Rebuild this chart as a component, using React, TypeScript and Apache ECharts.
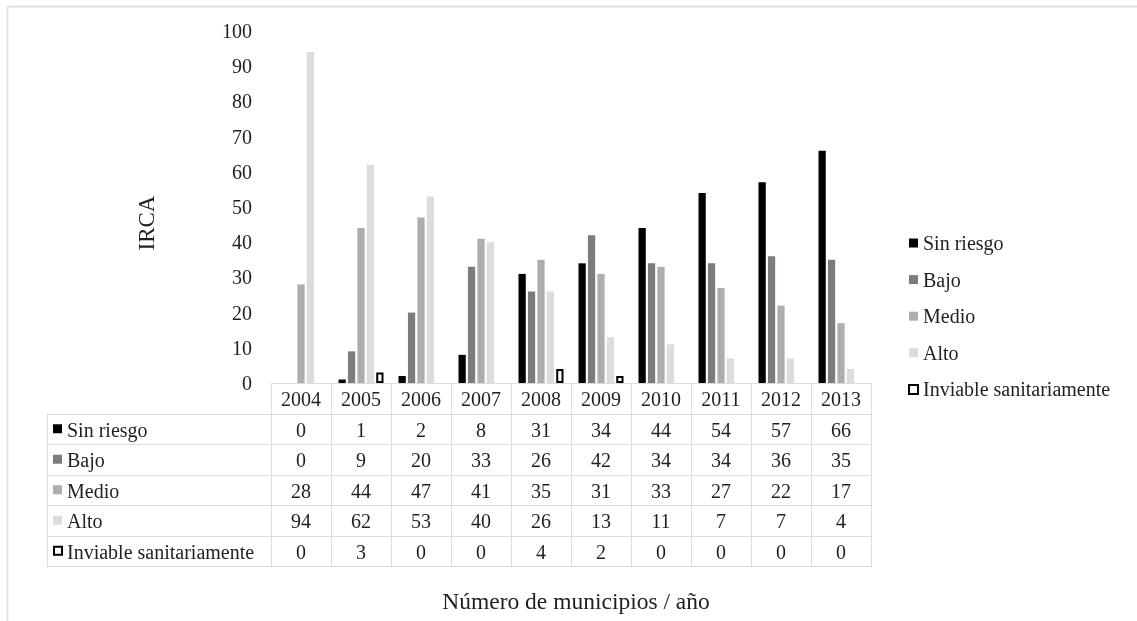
import React, { useEffect, useRef } from "react";
import * as echarts from "echarts";

const years = ["2004", "2005", "2006", "2007", "2008", "2009", "2010", "2011", "2012", "2013"];
const sinRiesgo = [0, 1, 2, 8, 31, 34, 44, 54, 57, 66];
const bajo = [0, 9, 20, 33, 26, 42, 34, 34, 36, 35];
const medio = [28, 44, 47, 41, 35, 31, 33, 27, 22, 17];
const alto = [94, 62, 53, 40, 26, 13, 11, 7, 7, 4];
const inviable = [0, 3, 0, 0, 4, 2, 0, 0, 0, 0];
const seriesNames = ["Sin riesgo", "Bajo", "Medio", "Alto", "Inviable sanitariamente"];
const yAxisTitle = "IRCA";
const xAxisTitle = "Número de municipios / año";

const FONT = "Liberation Serif";
const TXT = "#1f1f1f";
const GRIDC = "#dcdcdc";

export default function App() {
  const ref = useRef<HTMLDivElement>(null);
  useEffect(() => {
    if (!ref.current) return;
    const chart = echarts.init(ref.current, undefined, { renderer: "svg" });
    const values = [sinRiesgo, bajo, medio, alto, inviable];
    const styles = [
      { color: "#000000" },
      { color: "#7f7b7b" },
      { color: "#b0adad" },
      { color: "#dcdcdc" },
      { color: "#ffffff", borderColor: "#000000", borderWidth: 2 },
    ];

    const gl = 271, gr = 871, gt = 31, gb = 383;
    const colW = (gr - gl) / years.length;
    const rowH = 30.5;
    const tableLeft = 47;
    const nRows = seriesNames.length;
    const tableBottom = gb + (nRows + 1) * rowH;

    const txt = (text: string, x: number, y: number, align: string, size = 20, extra: any = {}) => ({
      type: "text",
      silent: true,
      ...extra,
      style: { text, x, y, align, verticalAlign: "middle", fontSize: size, fontFamily: FONT, fill: TXT },
    });

    const graphics: any[] = [];
    graphics.push({
      type: "rect",
      shape: { x: 7.5, y: 6.5, width: 1300, height: 800 },
      style: { fill: "none", stroke: "#e3e3e3", lineWidth: 2 },
      silent: true,
    });
    const hl = (x1: number, x2: number, y: number) =>
      graphics.push({ type: "line", shape: { x1, y1: Math.round(y) + 0.5, x2, y2: Math.round(y) + 0.5 }, style: { stroke: GRIDC, lineWidth: 1 }, silent: true });
    const vl = (x: number, y1: number, y2: number) =>
      graphics.push({ type: "line", shape: { x1: Math.round(x) + 0.5, y1, x2: Math.round(x) + 0.5, y2 }, style: { stroke: GRIDC, lineWidth: 1 }, silent: true });

    hl(gl, gr, gb);
    for (let r = 1; r <= nRows + 1; r++) hl(tableLeft, gr + 1, gb + r * rowH);
    vl(tableLeft, gb + rowH, tableBottom);
    for (let i = 0; i <= years.length; i++) vl(gl + i * colW, gb, tableBottom);

    years.forEach((y, i) => graphics.push(txt(y, gl + (i + 0.5) * colW, gb + rowH / 2 + 1, "center")));
    seriesNames.forEach((name, r) => {
      const cy = gb + (r + 1) * rowH + rowH / 2;
      const st = styles[r];
      graphics.push({
        type: "rect",
        shape: r === 4 ? { x: 54, y: cy - 4, width: 8, height: 8 } : { x: 53, y: cy - 4.5, width: 9, height: 9 },
        style: r === 4 ? { fill: "#fff", stroke: "#000", lineWidth: 2 } : { fill: st.color },
        silent: true,
      });
      graphics.push(txt(name, 67, cy + 1, "left"));
      values[r].forEach((v, i) => graphics.push(txt(String(v), gl + (i + 0.5) * colW, cy + 1, "center")));
    });
    graphics.push(txt(yAxisTitle, 0, 0, "center", 23, { x: 146, y: 223, rotation: Math.PI / 2 }));
    graphics.push(txt(xAxisTitle, 576, 601, "center", 23.5));

    chart.setOption({
      animation: false,
      textStyle: { fontFamily: FONT },
      grid: { left: gl, right: 1137 - gr, top: gt, bottom: 621 - gb, containLabel: false },
      xAxis: {
        type: "category",
        data: years,
        axisLine: { show: false },
        axisTick: { show: false },
        axisLabel: { show: false },
      },
      yAxis: {
        type: "value",
        min: 0,
        max: 100,
        interval: 10,
        splitLine: { show: false },
        axisLine: { show: false },
        axisTick: { show: false },
        axisLabel: { fontSize: 20, color: TXT, margin: 19, fontFamily: FONT },
      },
      legend: {
        orient: "vertical",
        left: 908,
        top: 233,
        padding: 0,
        itemWidth: 9,
        itemHeight: 9,
        itemGap: 16.6,
        itemStyle: { borderWidth: 0 },
        textStyle: { fontSize: 20, color: TXT, fontFamily: FONT, lineHeight: 20 },
        data: seriesNames.map((n, i) => ({
          name: n,
          icon: "rect",
          itemStyle: i === 4 ? { color: "#fff", borderColor: "#000", borderWidth: 2 } : { color: styles[i].color, borderWidth: 0 },
        })),
      },
      series: seriesNames.map((n, i) => ({
        name: n,
        type: "bar",
        barGap: "30%",
        barCategoryGap: "25%",
        data: i === 4 ? values[i].map((v) => (v === 0 ? "-" : v)) : values[i],
        itemStyle: styles[i],
      })),
      graphic: graphics,
    });
    return () => chart.dispose();
  }, []);
  return <div ref={ref} style={{ position: "fixed", left: 0, top: 0, width: 1137, height: 621 }} />;
}
